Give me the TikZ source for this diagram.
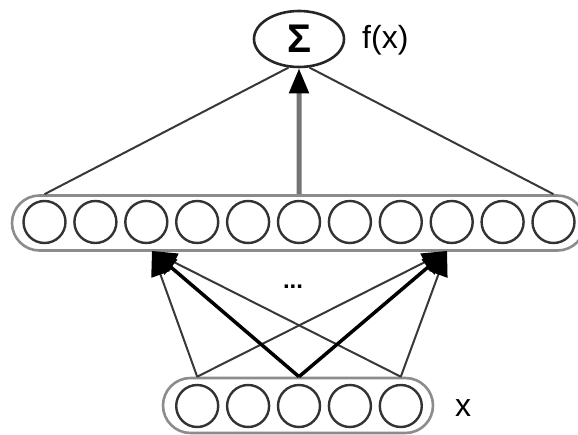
\documentclass[tikz,border=0pt]{standalone}
\usepackage{fontspec}
\setmainfont{Liberation Sans}
\usetikzlibrary{arrows.meta,shapes.geometric}
\begin{document}
\begin{tikzpicture}[x=1pt,y=-1pt,
  unit/.style={circle,draw=black!80,line width=2.4pt,minimum size=42pt,inner sep=0pt},
  layerbox/.style={draw=black!45,line width=2.6pt,rounded corners=27.5pt,minimum height=55pt,inner sep=0pt},
  thinedge/.style={draw=black!78,line width=2pt},
  thickedge/.style={draw=black,line width=3.5pt},
  head/.style={-{Triangle[length=25pt,width=19pt,color=black]}},
  lbl/.style={font=\fontsize{32}{36}\selectfont,inner sep=0pt}]
\useasboundingbox (0,0) rectangle (578,435);
% layers
\node[layerbox,minimum width=573pt] (hid) at (298.5,223) {};
\node[layerbox,minimum width=270pt] (inp) at (298,405.5) {};
\foreach \k in {1,...,11} \node[unit] (h\k) at ({44.5+50.9*(\k-1)},222) {};
\foreach \k in {1,...,5} \node[unit] (i\k) at ({197.2+50.9*(\k-1)},406) {};
% output
\node[ellipse,draw=black!85,line width=2.6pt,minimum width=90pt,minimum height=56pt,inner sep=0pt] (sum) at (299,39) {\fontsize{40}{44}\selectfont\bfseries Σ};
\node[lbl,anchor=west] (fx) at (362,40) {f(x)};
\node[lbl] (xl) at (463,408) {x};
\node[font=\fontsize{24}{26}\selectfont\bfseries,inner sep=0pt] (dots) at (293,287) {...};
% arrow targets on hidden layer
\coordinate (tl) at (152,251);
\coordinate (tr) at (447,251);
% input to hidden
\draw[thinedge,head] (i1 |- inp.north) -- (tl);
\draw[thinedge,head] (i5 |- inp.north) -- (tl);
\draw[thinedge,head] (i1 |- inp.north) -- (tr);
\draw[thinedge,head] (i5 |- inp.north) -- (tr);
\draw[thickedge,head] (i3 |- inp.north) -- (tl);
\draw[thickedge,head] (i3 |- inp.north) -- (tr);
% hidden to output
\draw[thinedge] (h1 |- hid.north) -- (sum.250);
\draw[thinedge] (h11 |- hid.north) -- (sum.290);
\draw[line width=5pt,draw=black!55,head] (h6 |- hid.north) -- (sum.south);
\end{tikzpicture}
\end{document}
